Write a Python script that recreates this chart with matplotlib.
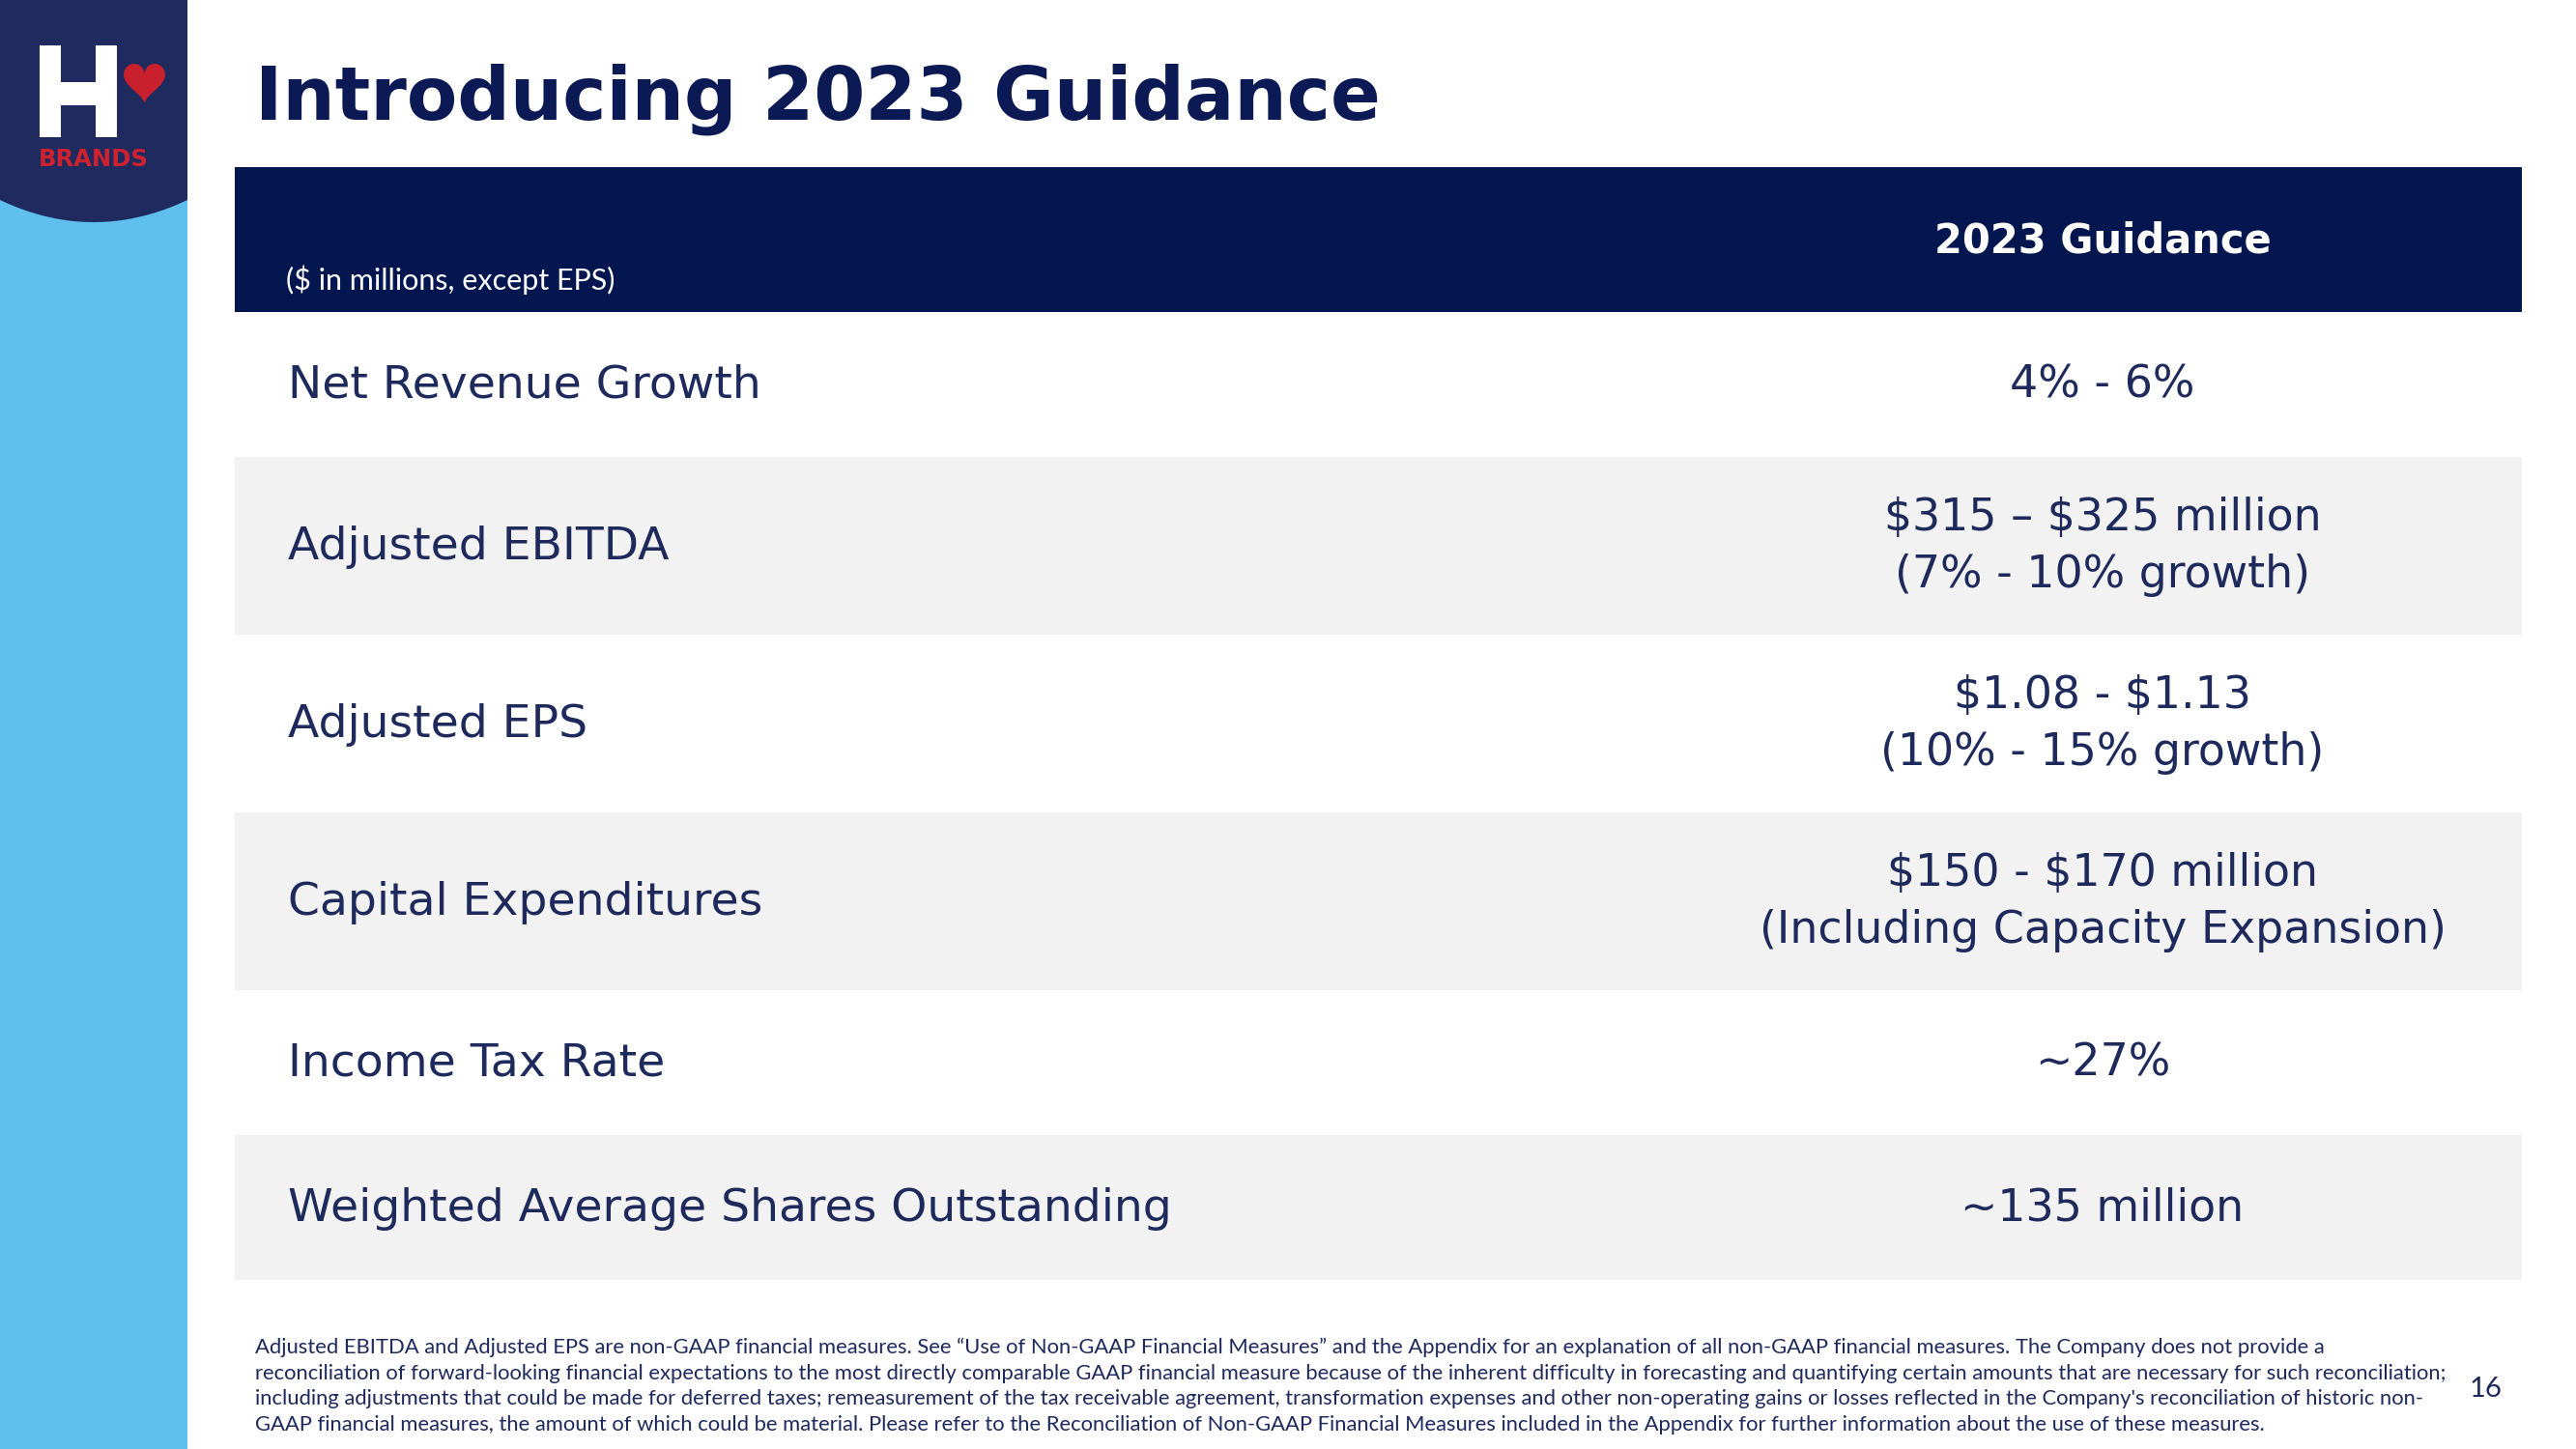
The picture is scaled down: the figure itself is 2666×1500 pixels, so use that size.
import numpy as np
import matplotlib
matplotlib.use("Agg")
import matplotlib.pyplot as plt
from matplotlib.patches import Rectangle, Polygon

plt.rcParams["text.parse_math"] = False

# ---------------- data ----------------
title = "Introducing 2023 Guidance"
units_note = "($ in millions, except EPS)"
column_header = "2023 Guidance"
row_labels = [
    "Net Revenue Growth",
    "Adjusted EBITDA",
    "Adjusted EPS",
    "Capital Expenditures",
    "Income Tax Rate",
    "Weighted Average Shares Outstanding",
]
row_values = [
    ["4% - 6%"],
    ["$315 \u2013 $325 million", "(7% - 10% growth)"],
    ["$1.08 - $1.13", "(10% - 15% growth)"],
    ["$150 - $170 million", "(Including Capacity Expansion)"],
    ["~27%"],
    ["~135 million"],
]
footnote_lines = [
    "Adjusted EBITDA and Adjusted EPS are non-GAAP financial measures. See \u201cUse of Non-GAAP Financial Measures\u201d and the Appendix for an explanation of all non-GAAP financial measures. The Company does not provide a",
    "reconciliation of forward-looking financial expectations to the most directly comparable GAAP financial measure because of the inherent difficulty in forecasting and quantifying certain amounts that are necessary for such reconciliation;",
    "including adjustments that could be made for deferred taxes; remeasurement of the tax receivable agreement, transformation expenses and other non-operating gains or losses reflected in the Company's reconciliation of historic non-",
    "GAAP financial measures, the amount of which could be material. Please refer to the Reconciliation of Non-GAAP Financial Measures included in the Appendix for further information about the use of these measures.",
]
page_number = "16"
logo_word = "BRANDS"

# ---------------- style ----------------
W, H = 2666, 1500
NAVY_BAND = "#04164f"
NAVY_TEXT = "#1e2a5c"
NAVY_TITLE = "#0b1a55"
LOGO_NAVY = "#1f2b5e"
SKY = "#5fc0ed"
RED = "#cf2230"
HEART = "#c9202e"
GRAY = "#f2f2f2"
TABLE_FONT = ["DejaVu Sans"]
SMALL_FONT = ["Lato", "DejaVu Sans"]

fig = plt.figure(figsize=(W / 100, H / 100), dpi=100)
ax = fig.add_axes([0, 0, 1, 1])
ax.set_xlim(0, W)
ax.set_ylim(H, 0)
ax.axis("off")

# ---------------- sidebar & logo ----------------
ax.add_patch(Rectangle((0, 0), 194, H, color=SKY, lw=0))
xs = np.linspace(0, 194, 80)
curve = 207 + 23 * (1 - ((xs - 97) / 97) ** 2)
poly = [(0, 0), (194, 0)] + list(zip(xs[::-1], curve[::-1]))
ax.add_patch(Polygon(poly, closed=True, color=LOGO_NAVY, lw=0))
# "H" mark
ax.add_patch(Rectangle((41, 47), 22, 95, color="white", lw=0))
ax.add_patch(Rectangle((99, 47), 22, 95, color="white", lw=0))
ax.add_patch(Rectangle((62, 85), 38, 24, color="white", lw=0))
# heart
t = np.linspace(0, 2 * np.pi, 200)
hx = 16 * np.sin(t) ** 3
hy = 13 * np.cos(t) - 5 * np.cos(2 * t) - 2 * np.cos(3 * t) - np.cos(4 * t)
hpx = 149.5 + hx * 1.34
hpy = 66 + (hy.max() - hy) * 1.42
ax.add_patch(Polygon(np.column_stack([hpx, hpy]), closed=True, color=HEART, lw=0))
ax.text(96.5, 172, logo_word, color=RED, fontsize=17.5, fontweight="bold",
        family=TABLE_FONT, ha="center", va="baseline")

# ---------------- title ----------------
ax.text(264, 124, title, color=NAVY_TITLE, fontsize=55, fontweight="bold",
        family=TABLE_FONT, ha="left", va="baseline")

# ---------------- table ----------------
tx0, tx1 = 243, 2610
band_top, band_bot = 173, 323
ax.add_patch(Rectangle((tx0, band_top), tx1 - tx0, band_bot - band_top,
                       color=NAVY_BAND, lw=0))
ax.text(296, 300, units_note, color="white", fontsize=22, family=SMALL_FONT,
        ha="left", va="baseline")
val_x = 2176
ax.text(val_x, 262, column_header, color="white", fontsize=30,
        fontweight="bold", family=TABLE_FONT, ha="center", va="baseline")

y = band_bot
for i, (lab, vals) in enumerate(zip(row_labels, row_values)):
    h = 150 if len(vals) == 1 else 184
    if i % 2 == 1:
        ax.add_patch(Rectangle((tx0, y), tx1 - tx0, h, color=GRAY, lw=0))
    yc = y + h / 2
    ax.text(298, yc + 14, lab, color=NAVY_TEXT, fontsize=34,
            family=TABLE_FONT, ha="left", va="baseline")
    n = len(vals)
    for j, v in enumerate(vals):
        yy = yc + 13.5 + (j - (n - 1) / 2) * 60
        ax.text(val_x, yy, v, color=NAVY_TEXT, fontsize=33,
                family=TABLE_FONT, ha="center", va="baseline")
    y += h

# ---------------- footnote ----------------
for k, line in enumerate(footnote_lines):
    ax.text(264, 1395 + k * 26.7, line, color=NAVY_TEXT, fontsize=15.8,
            family=SMALL_FONT, ha="left", va="center")
ax.text(2573, 1438, page_number, color=NAVY_TEXT, fontsize=21,
        family=SMALL_FONT, ha="center", va="center")

fig.savefig("out.png", dpi=100, facecolor="white")
